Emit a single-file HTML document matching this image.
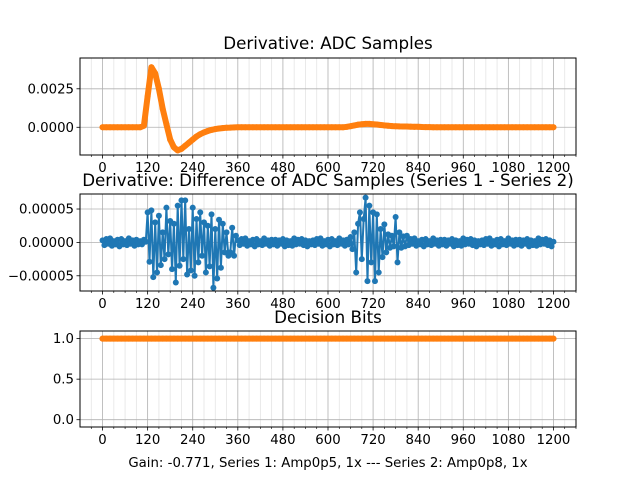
<!DOCTYPE html>
<html><head><meta charset="utf-8"><style>
body{margin:0;background:#fff;}
svg{display:block;font-family:"DejaVu Sans","Liberation Sans",sans-serif;}
</style></head><body>
<svg id="fig" width="640" height="480" viewBox="0 0 640 480" xmlns="http://www.w3.org/2000/svg"></svg>
<script>
const adcStep = 10;
const diffStep = 5;
const bitsStep = 10;
const xTicks = [0,120,240,360,480,600,720,840,960,1080,1200];
const adcDeriv = [0,0,0,0,0,0,0,0,0,0,0,0.0001,
0.0020,0.0039,0.0035,0.0025,0.0012,0.0002,-0.0008,-0.0013,-0.0015,-0.0014,-0.0012,-0.0010,-0.0008,-0.0006,-0.00045,-0.00033,-0.00024,-0.00017,-0.00012,-0.00008,-0.00005,-0.00003,-0.00002,-0.00001,
0,0,0,0,0,0,0,0,0,0,0,0,0,0,0,0,0,0,0,0,0,0,0,0,0,0,0,0,0,
0.00003,0.00007,0.00012,0.00017,0.0002,0.00022,0.00022,0.0002,0.00018,0.00015,0.00012,0.0001,0.00008,0.00007,0.00006,0.00005,0.00005,0.00004,0.00003,0.00003,0.00002,0.00001,0.00001,
0,0,0,0,0,0,0,0,0,0,0,0,0,0,0,0,0,0,0,0,0,0,0,0,0,0,0,0,0,0,0,0,0];
const diffE5 = [
0.3,-0.4,0.5,-0.2,0.6,-0.5,0.2,-0.3,0.4,-0.6,0.5,-0.3,0.2,-0.4,0.6,-0.2,0.3,-0.5,0.4,-0.3,0.2,-0.3,0.4,0.1,
4.5,-2.9,4.8,-5.2,3.0,-4.5,4.0,-3.4,1.5,-2.5,5.2,-1.8,3.2,-4.0,2.8,-6.0,5.5,-3.5,6.3,-2.5,6.3,-4.8,2.0,-4.2,5.2,-5.0,3.5,-3.0,4.5,-2.0,3.0,-4.5,2.5,-3.6,4.2,-6.8,2.0,-5.4,3.4,-3.8,2.8,-1.5,1.5,-2.0,
-1.5,2.2,-2.0,1.0,
0.3,-0.4,0.5,-0.2,0.6,-0.5,0.2,-0.3,0.4,-0.6,0.5,-0.3,0.2,-0.4,0.6,-0.2,0.3,-0.5,0.4,-0.3,
0.4,-0.5,0.3,-0.2,0.5,-0.6,0.3,-0.4,0.2,-0.5,0.6,-0.3,0.4,-0.2,0.5,-0.4,0.3,-0.6,0.2,-0.3,
0.3,-0.4,0.5,-0.2,0.6,-0.5,0.2,-0.3,0.4,-0.6,0.5,-0.3,0.2,-0.4,0.6,-0.2,0.3,-0.5,0.4,-0.3,
0.8,-1.0,1.5,-4.5,2.8,4.5,-2.5,3.5,6.7,-5.8,5.5,-3.0,4.5,-5.8,4.2,-4.5,2.0,-2.2,2.7,-1.5,1.2,-0.8,1.0,-0.6,3.8,-3.0,1.5,-0.8,0.9,-0.6,
1.0,-0.4,0.5,-0.2,0.6,-0.5,0.2,-0.3,0.4,-0.6,0.5,-0.3,0.2,-0.4,0.6,-0.2,0.3,-0.5,0.4,-0.3,
0.4,-0.5,0.3,-0.2,0.5,-0.6,0.3,-0.4,0.2,-0.5,0.6,-0.3,0.4,-0.2,0.5,-0.4,0.3,-0.6,0.2,-0.3,
0.3,-0.4,0.5,-0.2,0.6,-0.5,0.2,-0.3,0.4,-0.6,0.5,-0.3,0.2,-0.4,0.6,-0.2,0.3,-0.5,0.4,-0.3,
0.4,-0.5,0.3,-0.2,0.5,-0.6,0.3,-0.4,0.2,-0.5,0.6,-0.3,0.4,-0.2,0.5,-0.4,0.3,-0.6,0.1];
const decisionBits = Array(121).fill(1);
const topYTicks = [0.0000, 0.0025];
const topYLabels = ["0.0000","0.0025"];
const midYTicks = [-0.00005, 0, 0.00005];
const midYLabels = ["−0.00005","0.00000","0.00005"];
const botYTicks = [0, 0.5, 1];
const botYLabels = ["0.0","0.5","1.0"];

const NS="http://www.w3.org/2000/svg";
const svg=document.getElementById('fig');
function mk(tag,attrs,parent){const e=document.createElementNS(NS,tag);for(const k in attrs)e.setAttribute(k,attrs[k]);(parent||svg).appendChild(e);return e;}
const L=80,R=576,XMIN=-60,XMAX=1260;
const sx=v=>L+(v-XMIN)/(XMAX-XMIN)*(R-L);

function panel(name,top,bot,ymin,ymax,yt,yl,vals,scale,step,color,lw,title,titleY){
  const sy=v=>bot-(v-ymin)/(ymax-ymin)*(bot-top);
  const g=mk('g',{});
  
  
  for(let m=-30;m<=1260;m+=30){ if(m<XMIN||m%120===0)continue;
    const l=mk('line',{x1:sx(m),x2:sx(m),y1:top,y2:bot,stroke:'#e4e4e4','stroke-width':0.8},g);
    
    const t=mk('line',{x1:sx(m),x2:sx(m),y1:bot,y2:bot+2,stroke:'#000','stroke-width':0.6},g);
    }
  xTicks.forEach(v=>{
    const l=mk('line',{x1:sx(v),x2:sx(v),y1:top,y2:bot,stroke:'#b0b0b0','stroke-width':0.8},g);
    
    const t=mk('line',{x1:sx(v),x2:sx(v),y1:bot,y2:bot+3.5,stroke:'#000','stroke-width':0.8},g);
    
    const tx=mk('text',{x:sx(v),y:bot+17,'text-anchor':'middle','font-size':13.3},g);tx.textContent=v;
    });
  yt.forEach((v,i)=>{
    const l=mk('line',{x1:L,x2:R,y1:sy(v),y2:sy(v),stroke:'#b0b0b0','stroke-width':0.8},g);
    
    const t=mk('line',{x1:L-3.5,x2:L,y1:sy(v),y2:sy(v),stroke:'#000','stroke-width':0.8},g);
    
    const tx=mk('text',{x:L-6,y:sy(v)+4.5,'text-anchor':'end','font-size':13.3},g);tx.textContent=yl[i];
    });
  const pts=vals.map((v,i)=>sx(i*step).toFixed(1)+','+sy(v*scale).toFixed(1)).join(' ');
  const pl=mk('polyline',{points:pts,fill:'none',stroke:color,'stroke-width':lw,'stroke-linejoin':'round','stroke-linecap':'round'},g);
  
  vals.forEach((v,i)=>{const c=mk('circle',{cx:sx(i*step),cy:sy(v*scale),r:3,fill:color},g);
    });
  const fr=mk('rect',{x:L,y:top,width:R-L,height:bot-top,fill:'none',stroke:'#000','stroke-width':1},g);
  
  const tt=mk('text',{x:(L+R)/2,y:titleY,'text-anchor':'middle','font-size':16.7},g);tt.textContent=title;
  
}
panel('adc-derivative',58,155,-0.0018,0.0045,topYTicks,topYLabels,adcDeriv,1,adcStep,'#ff7f0e',6,'Derivative: ADC Samples',49);
panel('difference',194,291,-0.0000728,0.0000725,midYTicks,midYLabels,diffE5,1e-5,diffStep,'#1f77b4',2,'Derivative: Difference of ADC Samples (Series 1 - Series 2)',186);
panel('decision-bits',331,427,-0.09,1.094,botYTicks,botYLabels,decisionBits,1,bitsStep,'#ff7f0e',6,'Decision Bits',323);
const xl=mk('text',{x:328,y:467,'text-anchor':'middle','font-size':13.3});
xl.textContent='Gain: -0.771, Series 1: Amp0p5, 1x --- Series 2: Amp0p8, 1x';


</script>
</body></html>
